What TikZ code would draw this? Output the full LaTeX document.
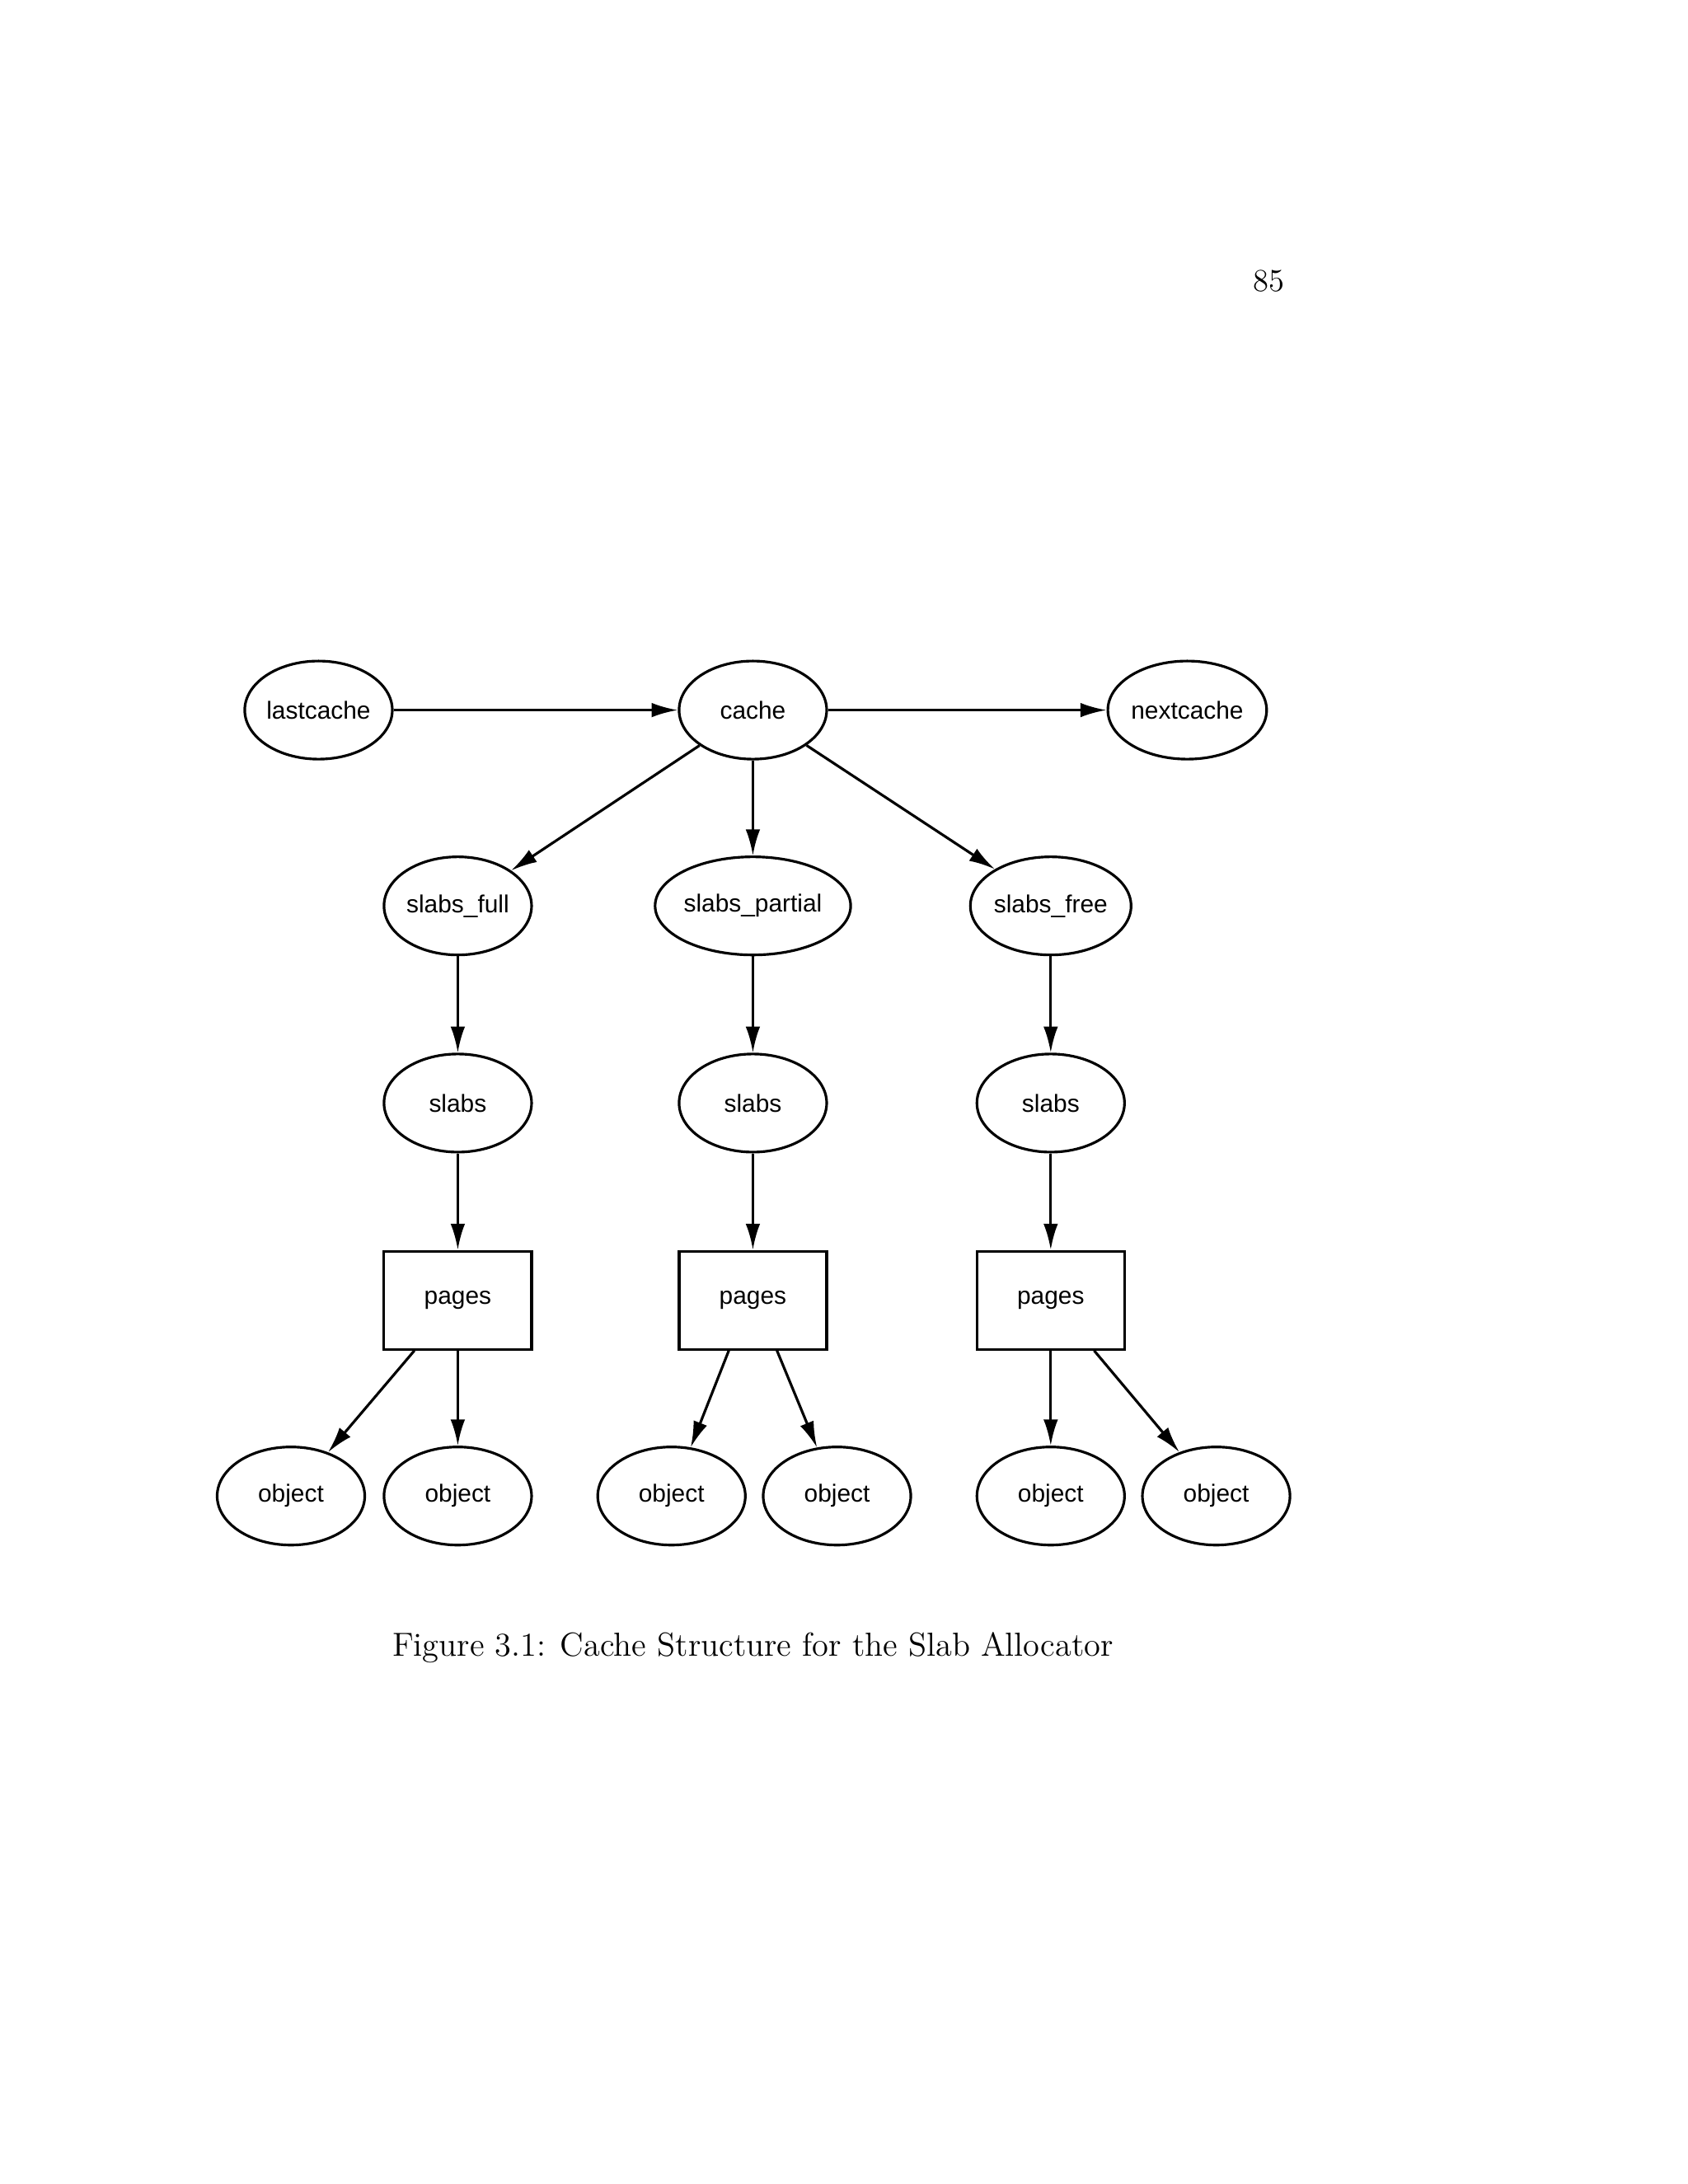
\documentclass[tikz,border=0pt]{standalone}
\usepackage{fontspec}
\newfontfamily\hv{Liberation Sans}
\usetikzlibrary{shapes.geometric,arrows.meta}
\begin{document}
\begin{tikzpicture}[x=0.01673cm,y=-0.01673cm,
  el/.style={ellipse,draw,line width=0.9pt,minimum width=1.79cm,minimum height=1.19cm,inner sep=0pt,font=\hv\fontsize{8.5}{10}\selectfont},
  bx/.style={rectangle,draw,line width=0.9pt,minimum width=1.79cm,minimum height=1.19cm,inner sep=0pt,font=\hv\fontsize{8.5}{10}\selectfont},
  ar/.style={draw,line width=0.9pt,-{Latex[length=9pt,width=5pt]}}]
\useasboundingbox (0,0) rectangle (1224,1584);
\node[font=\fontsize{11}{13}\selectfont] (pg) at (920,204) {85};
\node[el] (last) at (231,515) {lastcache};
\node[el] (cache) at (546,515) {cache};
\node[el] (next) at (861,515) {nextcache};
\node[el] (sf) at (332,657) {slabs\_full};
\node[el,minimum width=2.04cm] (sp) at (546,657) {slabs\_partial};
\node[el] (sfr) at (762,657) {slabs\_free};
\node[el] (s1) at (332,800) {slabs};
\node[el] (s2) at (546,800) {slabs};
\node[el] (s3) at (762,800) {slabs};
\node[bx] (p1) at (332,943) {pages};
\node[bx] (p2) at (546,943) {pages};
\node[bx] (p3) at (762,943) {pages};
\node[el] (o1) at (211,1085) {object};
\node[el] (o2) at (332,1085) {object};
\node[el] (o3) at (487,1085) {object};
\node[el] (o4) at (607,1085) {object};
\node[el] (o5) at (762,1085) {object};
\node[el] (o6) at (882,1085) {object};
\node[font=\fontsize{11.5}{14}\selectfont] (cap) at (546,1195) {Figure 3.1: Cache Structure for the Slab Allocator};
\draw[ar] (last) -- (cache);
\draw[ar] (cache) -- (next);
\draw[ar] (cache) -- (sf);
\draw[ar] (cache) -- (sp);
\draw[ar] (cache) -- (sfr);
\draw[ar] (sf) -- (s1);
\draw[ar] (sp) -- (s2);
\draw[ar] (sfr) -- (s3);
\draw[ar] (s1) -- (p1);
\draw[ar] (s2) -- (p2);
\draw[ar] (s3) -- (p3);
\draw[ar] (p1.south west)++(23,0) -- (o1);
\draw[ar] (p1) -- (o2);
\draw[ar] (p2.south west)++(37,0) -- (o3);
\draw[ar] (p2.south east)++(-37,0) -- (o4);
\draw[ar] (p3) -- (o5);
\draw[ar] (p3.south east)++(-23,0) -- (o6);
\end{tikzpicture}
\end{document}
